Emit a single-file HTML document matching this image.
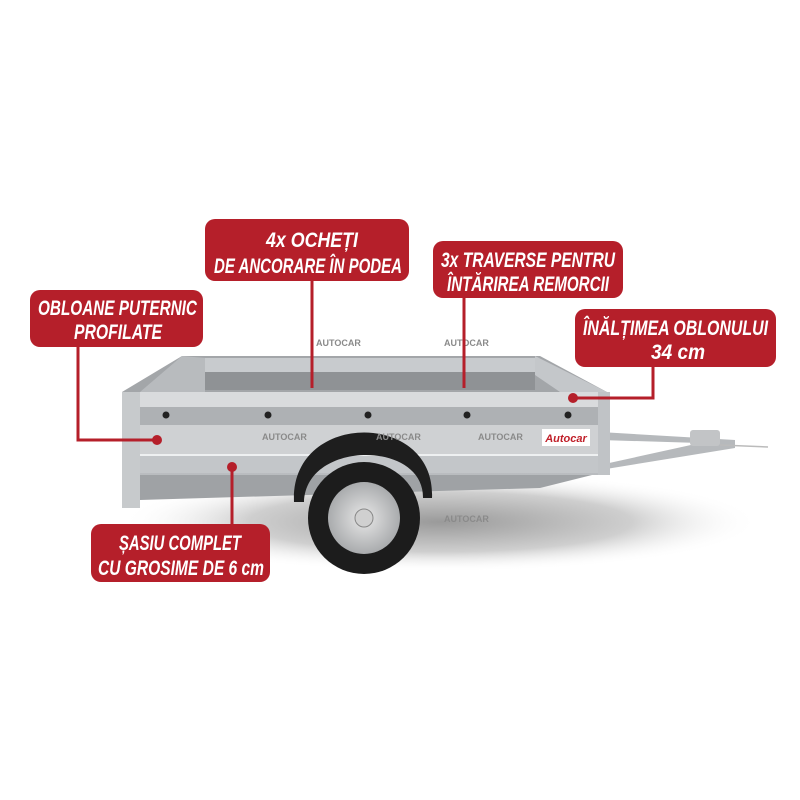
<!DOCTYPE html>
<html><head><meta charset="utf-8"><style>
html,body{margin:0;padding:0;background:#fff}
svg{display:block}
.t{font-family:"Liberation Sans",sans-serif;font-weight:bold;font-style:italic;fill:#fff;font-size:21px}
.w{font-family:"Liberation Sans",sans-serif;font-weight:bold;font-size:9px;fill:#8a8a8a}
</style></head><body>
<svg width="800" height="800" viewBox="0 0 800 800" xmlns="http://www.w3.org/2000/svg">
<defs>
<radialGradient id="sh" cx="0.5" cy="0.5" r="0.5"><stop offset="0" stop-color="#9a9a9a"/><stop offset="0.6" stop-color="#cfcfcf"/><stop offset="1" stop-color="#fff" stop-opacity="0"/></radialGradient>
<linearGradient id="pan" x1="0" y1="0" x2="0" y2="1"><stop offset="0" stop-color="#d4d6d8"/><stop offset="1" stop-color="#b9bcbf"/></linearGradient>
<radialGradient id="rim" cx="0.5" cy="0.5" r="0.5"><stop offset="0" stop-color="#e8e8e8"/><stop offset="1" stop-color="#a9abad"/></radialGradient>
</defs>
<ellipse cx="440" cy="522" rx="320" ry="50" fill="url(#sh)"/>
<polygon points="182,356 540,356 607,392 122,392" fill="#a3a6a9"/>
<rect x="205" y="358" width="330" height="14" fill="#c8cbce"/>
<rect x="205" y="372" width="330" height="18" fill="#8f9295"/>
<polygon points="182,356 205,358 205,392 140,392" fill="#b8bbbe"/>
<polygon points="535,356 607,392 560,392 535,375" fill="#c4c7ca"/>
<polygon points="600,432 735,440 735,448 600,470" fill="#b6b9bc"/>
<polygon points="600,440 700,443 600,465" fill="#fff"/>
<rect x="690" y="430" width="30" height="16" rx="3" fill="#c2c4c6"/>
<line x1="720" y1="445" x2="768" y2="447" stroke="#bbb" stroke-width="1.5"/>
<polygon points="140,473 600,473 540,488 140,500" fill="#9fa2a5"/>
<rect x="122" y="392" width="488" height="83" fill="url(#pan)"/>
<rect x="122" y="392" width="488" height="15" fill="#d9dbdd"/>
<rect x="140" y="407" width="460" height="18" fill="#aeb1b4"/>
<rect x="140" y="425" width="460" height="30" fill="#cfd1d3"/>
<rect x="140" y="455" width="460" height="18" fill="#c3c6c9"/>
<line x1="140" y1="455" x2="600" y2="455" stroke="#eef0f1" stroke-width="2"/>
<rect x="122" y="392" width="18" height="116" fill="#c7cacc"/>
<rect x="598" y="392" width="12" height="83" fill="#c0c3c6"/>
<g fill="#222">
<circle cx="166" cy="415" r="3.5"/><circle cx="268" cy="415" r="3.5"/><circle cx="368" cy="415" r="3.5"/><circle cx="467" cy="415" r="3.5"/><circle cx="568" cy="415" r="3.5"/>
</g>
<rect x="542" y="429" width="48" height="17" fill="#fff"/>
<text x="566" y="442" font-family="Liberation Sans" font-weight="bold" font-style="italic" font-size="11" fill="#c0202a" text-anchor="middle">Autocar</text>
<path d="M294,502 C290,410 436,410 432,498 L423,498 C424,440 306,440 304,502 Z" fill="#1e1e1e"/>
<circle cx="364" cy="518" r="56" fill="#1c1c1c"/>
<circle cx="364" cy="518" r="36" fill="url(#rim)"/>
<circle cx="364" cy="518" r="9" fill="#d0d0d0" stroke="#888"/>
<text class="w" x="316" y="346">AUTOCAR</text><text class="w" x="444" y="346">AUTOCAR</text>
<text class="w" x="262" y="440">AUTOCAR</text><text class="w" x="376" y="440">AUTOCAR</text><text class="w" x="478" y="440">AUTOCAR</text>
<text class="w" x="444" y="522">AUTOCAR</text>
<g stroke="#b51f2a" stroke-width="3" fill="none">
<line x1="312" y1="280" x2="312" y2="388"/>
<line x1="464" y1="297" x2="464" y2="388"/>
<polyline points="78,346 78,440 157,440"/>
<polyline points="653,366 653,398 573,398"/>
<line x1="232" y1="525" x2="232" y2="467"/>
</g>
<g fill="#b51f2a">
<circle cx="157" cy="440" r="5"/><circle cx="573" cy="398" r="5"/><circle cx="232" cy="467" r="5"/>
<rect x="205" y="219" width="204" height="62" rx="10"/>
<rect x="433" y="241" width="190" height="57" rx="10"/>
<rect x="30" y="290" width="173" height="57" rx="10"/>
<rect x="575" y="309" width="201" height="58" rx="10"/>
<rect x="91" y="524" width="179" height="58" rx="10"/>
</g>
<text class="t" x="266" y="247" textLength="92" lengthAdjust="spacingAndGlyphs">4x OCHEȚI</text>
<text class="t" x="214" y="273" textLength="188" lengthAdjust="spacingAndGlyphs">DE ANCORARE ÎN PODEA</text>
<text class="t" x="441" y="267" textLength="174" lengthAdjust="spacingAndGlyphs">3x TRAVERSE PENTRU</text>
<text class="t" x="447" y="291" textLength="162" lengthAdjust="spacingAndGlyphs">ÎNTĂRIREA REMORCII</text>
<text class="t" x="38" y="315" textLength="159" lengthAdjust="spacingAndGlyphs">OBLOANE PUTERNIC</text>
<text class="t" x="74" y="339" textLength="88" lengthAdjust="spacingAndGlyphs">PROFILATE</text>
<text class="t" x="583" y="335" textLength="185" lengthAdjust="spacingAndGlyphs">ÎNĂLȚIMEA OBLONULUI</text>
<text class="t" x="651" y="359" textLength="54" lengthAdjust="spacingAndGlyphs">34 cm</text>
<text class="t" x="119" y="550" textLength="122" lengthAdjust="spacingAndGlyphs">ȘASIU COMPLET</text>
<text class="t" x="98" y="575" textLength="166" lengthAdjust="spacingAndGlyphs">CU GROSIME DE 6 cm</text>
</svg>
</body></html>
